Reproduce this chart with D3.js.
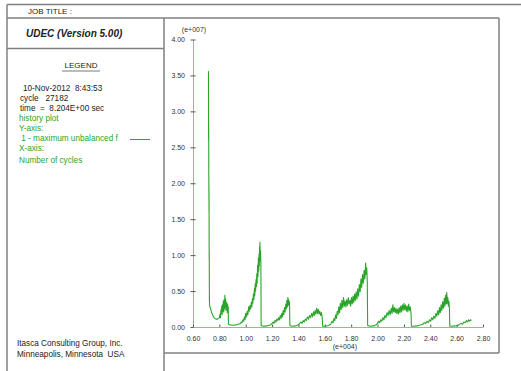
<!DOCTYPE html>
<html>
<head>
<meta charset="utf-8">
<script src="https://cdn.jsdelivr.net/npm/d3@7/dist/d3.min.js"></script>
<style>
  html, body { margin: 0; padding: 0; background: #fff; }
  svg { display: block; }
  text { font-family: "Liberation Sans", Arial, sans-serif; }
</style>
</head>
<body>
<svg id="plot" width="521" height="371"></svg>
<script>
// Axis ticks (x in units of e+004 cycles, y in units of e+007)
const xTicks = [0.6, 0.8, 1.0, 1.2, 1.4, 1.6, 1.8, 2.0, 2.2, 2.4, 2.6, 2.8];
const yTicks = [0, 0.5, 1.0, 1.5, 2.0, 2.5, 3.0, 3.5, 4.0];

// Legend block text
const headerLines = ["10-Nov-2012  8:43:53", "cycle   27182", "time  =  8.204E+00 sec"];
const legendLines = ["history plot", "Y-axis:", " 1 - maximum unbalanced f", "X-axis:", "Number of cycles"];
const footerLines = ["Itasca Consulting Group, Inc.", "Minneapolis, Minnesota  USA"];

// History 1: maximum unbalanced force vs. cycle number  [cycles e+004, force e+007]
const initialSpike = [
  [0.7175, 3.56], [0.7180, 2.84], [0.7183, 2.62], [0.7186, 2.80], [0.7189, 2.58],
  [0.7192, 2.76], [0.7195, 2.50], [0.7198, 2.18], [0.7201, 2.06], [0.7204, 1.86],
  [0.7207, 1.96], [0.7210, 1.74], [0.7213, 1.90], [0.7216, 1.60], [0.7219, 1.76],
  [0.7222, 1.40], [0.7225, 1.10], [0.7228, 0.94], [0.7231, 1.06], [0.7234, 0.93],
  [0.7237, 0.70], [0.7240, 0.55], [0.7243, 0.42], [0.7246, 0.36], [0.7249, 0.42],
  [0.7252, 0.35], [0.7260, 0.31], [0.7280, 0.28], [0.733, 0.26], [0.740, 0.21],
  [0.748, 0.17], [0.756, 0.14], [0.765, 0.12], [0.775, 0.11], [0.785, 0.11],
  [0.795, 0.12], [0.800, 0.13]
];
const stage1 = [
  [0.805, 0.18], [0.808, 0.13], [0.812, 0.24], [0.815, 0.19], [0.818, 0.29],
  [0.821, 0.17], [0.824, 0.31], [0.827, 0.22], [0.830, 0.36], [0.833, 0.21],
  [0.836, 0.38], [0.839, 0.25], [0.842, 0.44], [0.844, 0.28], [0.847, 0.39],
  [0.850, 0.23], [0.852, 0.35], [0.855, 0.26], [0.858, 0.33], [0.860, 0.20],
  [0.863, 0.31], [0.865, 0.24], [0.867, 0.28], [0.869, 0.04],
  [0.880, 0.03], [0.900, 0.025], [0.930, 0.03]
];
const stage2 = [
  [0.960, 0.05], [0.966, 0.07], [0.972, 0.06], [0.978, 0.10], [0.984, 0.08],
  [0.990, 0.14], [0.995, 0.10], [1.000, 0.19], [1.006, 0.14], [1.011, 0.22],
  [1.016, 0.17], [1.022, 0.28], [1.027, 0.22], [1.032, 0.30], [1.037, 0.25],
  [1.042, 0.34], [1.046, 0.28], [1.050, 0.39], [1.054, 0.33], [1.058, 0.46],
  [1.062, 0.38], [1.066, 0.54], [1.069, 0.44], [1.072, 0.60], [1.075, 0.50],
  [1.078, 0.66], [1.081, 0.56], [1.084, 0.74], [1.087, 0.61], [1.090, 0.86],
  [1.093, 0.70], [1.096, 0.96], [1.099, 0.78], [1.101, 1.02], [1.103, 0.85],
  [1.105, 1.12], [1.107, 0.92], [1.108, 1.18], [1.110, 0.96], [1.112, 1.06],
  [1.115, 0.88], [1.117, 0.02], [1.130, 0.01], [1.160, 0.015], [1.190, 0.03]
];
const stage3 = [
  [1.200, 0.05], [1.208, 0.07], [1.215, 0.05], [1.222, 0.09], [1.229, 0.07],
  [1.236, 0.11], [1.243, 0.09], [1.250, 0.13], [1.256, 0.10], [1.262, 0.16],
  [1.268, 0.12], [1.274, 0.19], [1.279, 0.14], [1.284, 0.23], [1.289, 0.17],
  [1.294, 0.27], [1.299, 0.21], [1.304, 0.32], [1.308, 0.25], [1.312, 0.37],
  [1.316, 0.28], [1.320, 0.41], [1.323, 0.30], [1.326, 0.38], [1.329, 0.31],
  [1.332, 0.35], [1.335, 0.02], [1.350, 0.01], [1.380, 0.015]
];
const stage4 = [
  [1.400, 0.03], [1.410, 0.05], [1.420, 0.07], [1.428, 0.05], [1.436, 0.09],
  [1.444, 0.07], [1.452, 0.11], [1.460, 0.09], [1.468, 0.14], [1.476, 0.11],
  [1.484, 0.16], [1.492, 0.13], [1.500, 0.19], [1.507, 0.14], [1.514, 0.21],
  [1.520, 0.16], [1.526, 0.23], [1.532, 0.18], [1.538, 0.26], [1.544, 0.19],
  [1.550, 0.25], [1.556, 0.18], [1.562, 0.22], [1.568, 0.16], [1.574, 0.20],
  [1.580, 0.14], [1.584, 0.01], [1.600, 0.01], [1.630, 0.02]
];
const stage5 = [
  [1.645, 0.04], [1.655, 0.08], [1.662, 0.06], [1.670, 0.12], [1.676, 0.09],
  [1.682, 0.17], [1.688, 0.12], [1.694, 0.22], [1.700, 0.17], [1.706, 0.28],
  [1.712, 0.20], [1.718, 0.33], [1.724, 0.24], [1.730, 0.37], [1.736, 0.27],
  [1.742, 0.41], [1.748, 0.29], [1.754, 0.36], [1.760, 0.28], [1.766, 0.38],
  [1.772, 0.30], [1.778, 0.41], [1.784, 0.32], [1.790, 0.37], [1.796, 0.29],
  [1.802, 0.41], [1.808, 0.32], [1.814, 0.43], [1.820, 0.34], [1.826, 0.46],
  [1.832, 0.37], [1.838, 0.49], [1.844, 0.39], [1.850, 0.53], [1.856, 0.43],
  [1.862, 0.59], [1.868, 0.49], [1.874, 0.67], [1.880, 0.55], [1.886, 0.73],
  [1.892, 0.61], [1.898, 0.79], [1.904, 0.67], [1.910, 0.89], [1.914, 0.73],
  [1.918, 0.82], [1.922, 0.65], [1.925, 0.02], [1.940, 0.01], [1.970, 0.015]
];
const stage6 = [
  [1.990, 0.03], [2.000, 0.05], [2.008, 0.08], [2.016, 0.06], [2.024, 0.10],
  [2.032, 0.08], [2.040, 0.13], [2.048, 0.10], [2.056, 0.16], [2.064, 0.13],
  [2.072, 0.20], [2.080, 0.16], [2.088, 0.23], [2.096, 0.17], [2.104, 0.26],
  [2.110, 0.19], [2.116, 0.31], [2.122, 0.21], [2.128, 0.27], [2.134, 0.20],
  [2.140, 0.26], [2.146, 0.19], [2.152, 0.25], [2.158, 0.18], [2.164, 0.27],
  [2.170, 0.20], [2.176, 0.29], [2.182, 0.21], [2.188, 0.31], [2.194, 0.23],
  [2.200, 0.33], [2.206, 0.24], [2.212, 0.31], [2.218, 0.22], [2.224, 0.29],
  [2.230, 0.21], [2.236, 0.32], [2.242, 0.23], [2.248, 0.28], [2.254, 0.19],
  [2.257, 0.01], [2.270, 0.01], [2.300, 0.015]
];
const stage7 = [
  [2.330, 0.03], [2.345, 0.04], [2.355, 0.06], [2.365, 0.05], [2.375, 0.08],
  [2.385, 0.06], [2.395, 0.10], [2.403, 0.08], [2.411, 0.13], [2.419, 0.10],
  [2.427, 0.15], [2.435, 0.12], [2.443, 0.19], [2.450, 0.15], [2.457, 0.23],
  [2.464, 0.17], [2.470, 0.27], [2.476, 0.20], [2.482, 0.31], [2.488, 0.23],
  [2.494, 0.35], [2.500, 0.26], [2.506, 0.40], [2.511, 0.29], [2.516, 0.44],
  [2.521, 0.32], [2.525, 0.48], [2.529, 0.33], [2.533, 0.41], [2.537, 0.29],
  [2.541, 0.36], [2.545, 0.27], [2.548, 0.01], [2.560, 0.01], [2.590, 0.015]
];
const stage8 = [
  [2.610, 0.02], [2.625, 0.04], [2.635, 0.05], [2.645, 0.04], [2.655, 0.07],
  [2.665, 0.06], [2.675, 0.09], [2.683, 0.07], [2.691, 0.10], [2.699, 0.08],
  [2.706, 0.10], [2.712, 0.09]
];

const history = [].concat(initialSpike, stage1, stage2, stage3, stage4,
                          stage5, stage6, stage7, stage8);

const svg = d3.select("#plot");
const frameColor = "#808080";
const green = "#2aa52a";
const textColor = "#222";

// ---- Page frame ----
const frame = svg.append("g")
  .attr("fill", "none")
  .attr("stroke", frameColor)
  .attr("stroke-width", 1.5);
frame.append("line").attr("x1", 7).attr("y1", 4.5).attr("x2", 521).attr("y2", 4.5);
frame.append("line").attr("x1", 7).attr("y1", 4.5).attr("x2", 7).attr("y2", 371);
frame.append("line").attr("x1", 7).attr("y1", 18).attr("x2", 499).attr("y2", 18);
frame.append("line").attr("x1", 7).attr("y1", 48.5).attr("x2", 164).attr("y2", 48.5);
frame.append("line").attr("x1", 164).attr("y1", 18).attr("x2", 164).attr("y2", 371);
frame.append("line").attr("x1", 499).attr("y1", 18).attr("x2", 499).attr("y2", 353);
frame.append("line").attr("x1", 164).attr("y1", 353).attr("x2", 499).attr("y2", 353);

// ---- Title block ----
svg.append("text").attr("x", 28).attr("y", 14)
  .attr("font-size", 8).attr("fill", textColor).text("JOB TITLE :");
svg.append("text").attr("x", 26).attr("y", 37)
  .attr("font-size", 10).attr("font-weight", "bold").attr("font-style", "italic")
  .attr("fill", textColor).text("UDEC (Version 5.00)");

// ---- Legend ----
svg.append("text").attr("x", 81).attr("y", 68).attr("text-anchor", "middle")
  .attr("font-size", 8).attr("fill", textColor).text("LEGEND");
svg.append("line").attr("x1", 62).attr("x2", 100).attr("y1", 71).attr("y2", 71)
  .attr("stroke", "#555").attr("stroke-width", 0.8);

svg.append("g").selectAll("text").data(headerLines).join("text")
  .attr("x", (d, i) => i === 0 ? 23 : 20)
  .attr("y", (d, i) => 90.5 + i * 10)
  .attr("font-size", 8.2).attr("fill", textColor)
  .attr("xml:space", "preserve")
  .text(d => d);

svg.append("g").selectAll("text").data(legendLines).join("text")
  .attr("x", 19)
  .attr("y", (d, i) => i < 4 ? 120.5 + i * 10 : 163)
  .attr("font-size", 8.2).attr("fill", green)
  .attr("xml:space", "preserve")
  .text(d => d);
svg.append("line").attr("x1", 130).attr("x2", 150).attr("y1", 139.5).attr("y2", 139.5)
  .attr("stroke", green).attr("stroke-width", 1);

svg.append("g").selectAll("text").data(footerLines).join("text")
  .attr("x", 17)
  .attr("y", (d, i) => 346 + i * 11)
  .attr("font-size", 8.2).attr("fill", textColor)
  .attr("xml:space", "preserve")
  .text(d => d);

// ---- Plot ----
const x = d3.scaleLinear().domain([0.6, 2.8]).range([193, 483]);
const y = d3.scaleLinear().domain([0, 4]).range([327, 39.5]);
const axisColor = "#86c486";
const fmt = d3.format(".2f");

const yAxis = svg.append("g").attr("transform", `translate(${x(0.6)},0)`)
  .call(d3.axisLeft(y).tickValues(yTicks).tickFormat(fmt).tickSizeInner(2).tickSizeOuter(0).tickPadding(6));
yAxis.select(".domain").attr("stroke", axisColor);
yAxis.selectAll(".tick line").attr("x1", -2.5).attr("x2", 2.5).attr("stroke", "#555");
yAxis.selectAll(".tick text").attr("font-size", 7).attr("fill", "#333")
  .attr("font-family", "'Liberation Sans', Arial, sans-serif");

const xAxis = svg.append("g").attr("transform", `translate(0,${y(0)})`)
  .call(d3.axisBottom(x).tickValues(xTicks).tickFormat(fmt).tickSizeInner(2).tickSizeOuter(0).tickPadding(7));
xAxis.select(".domain").attr("stroke", axisColor);
xAxis.selectAll(".tick line").attr("y1", -2.5).attr("y2", 0).attr("stroke", "#555");
xAxis.selectAll(".tick text").attr("font-size", 7).attr("fill", "#333")
  .attr("font-family", "'Liberation Sans', Arial, sans-serif");

svg.append("text").attr("x", 194).attr("y", 32).attr("text-anchor", "middle")
  .attr("font-size", 7).attr("fill", "#333").text("(e+007)");
svg.append("text").attr("x", 357).attr("y", 349).attr("text-anchor", "end")
  .attr("font-size", 7).attr("fill", "#333").text("(e+004)");

const line = d3.line().x(d => x(d[0])).y(d => y(d[1]));
svg.append("path").datum(history)
  .attr("d", line)
  .attr("fill", "none")
  .attr("stroke", green)
  .attr("stroke-width", 1.1)
  .attr("stroke-linejoin", "round");
</script>
</body>
</html>
